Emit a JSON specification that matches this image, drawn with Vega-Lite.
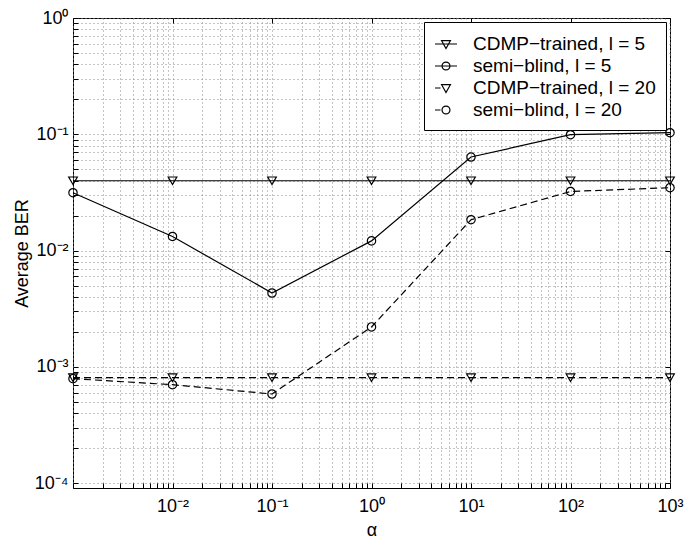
{
  "$schema": "https://vega.github.io/schema/vega-lite/v6.json",
  "width": 597,
  "height": 470,
  "autosize": {"type": "none"},
  "padding": {"left": 73, "top": 18, "right": 26, "bottom": 50},
  "background": "white",
  "config": {
    "view": {"stroke": "black", "strokeWidth": 1},
    "font": "Liberation Sans",
    "axis": {
      "labelFont": "Liberation Sans",
      "titleFont": "Liberation Sans",
      "labelFontSize": 18,
      "titleFontSize": 18,
      "titleFontWeight": "normal",
      "labelColor": "black",
      "titleColor": "black",
      "domain": false,
      "tickColor": "black",
      "tickSize": -5,
      "labelOverlap": false,
      "labelFlush": false,
      "labelBound": false
    },
    "legend": {
      "orient": "top-right",
      "offset": 4,
      "strokeColor": "black",
      "fillColor": "white",
      "padding": 10,
      "labelFont": "Liberation Sans",
      "labelFontSize": 19,
      "labelColor": "black",
      "labelLimit": 400,
      "symbolSize": 484,
      "symbolOpacity": 1,
      "symbolStrokeColor": "black",
      "symbolFillColor": "transparent",
      "symbolStrokeWidth": 1.2,
      "labelOffset": 15,
      "rowPadding": -2
    }
  },
  "data": {
    "values": [
      {"alpha": 0.001, "ber": 0.0398, "series": "CDMP−trained, l = 5", "method": "CDMP", "l": 5},
      {"alpha": 0.01, "ber": 0.0398, "series": "CDMP−trained, l = 5", "method": "CDMP", "l": 5},
      {"alpha": 0.1, "ber": 0.0398, "series": "CDMP−trained, l = 5", "method": "CDMP", "l": 5},
      {"alpha": 1, "ber": 0.0398, "series": "CDMP−trained, l = 5", "method": "CDMP", "l": 5},
      {"alpha": 10, "ber": 0.0398, "series": "CDMP−trained, l = 5", "method": "CDMP", "l": 5},
      {"alpha": 100, "ber": 0.0398, "series": "CDMP−trained, l = 5", "method": "CDMP", "l": 5},
      {"alpha": 1000, "ber": 0.0398, "series": "CDMP−trained, l = 5", "method": "CDMP", "l": 5},
      {"alpha": 0.001, "ber": 0.0314, "series": "semi−blind, l = 5", "method": "semi", "l": 5},
      {"alpha": 0.01, "ber": 0.0132, "series": "semi−blind, l = 5", "method": "semi", "l": 5},
      {"alpha": 0.1, "ber": 0.00431, "series": "semi−blind, l = 5", "method": "semi", "l": 5},
      {"alpha": 1, "ber": 0.0121, "series": "semi−blind, l = 5", "method": "semi", "l": 5},
      {"alpha": 10, "ber": 0.0637, "series": "semi−blind, l = 5", "method": "semi", "l": 5},
      {"alpha": 100, "ber": 0.0991, "series": "semi−blind, l = 5", "method": "semi", "l": 5},
      {"alpha": 1000, "ber": 0.1031, "series": "semi−blind, l = 5", "method": "semi", "l": 5},
      {"alpha": 0.001, "ber": 0.000805, "series": "CDMP−trained, l = 20", "method": "CDMP", "l": 20},
      {"alpha": 0.01, "ber": 0.000805, "series": "CDMP−trained, l = 20", "method": "CDMP", "l": 20},
      {"alpha": 0.1, "ber": 0.000805, "series": "CDMP−trained, l = 20", "method": "CDMP", "l": 20},
      {"alpha": 1, "ber": 0.000805, "series": "CDMP−trained, l = 20", "method": "CDMP", "l": 20},
      {"alpha": 10, "ber": 0.000805, "series": "CDMP−trained, l = 20", "method": "CDMP", "l": 20},
      {"alpha": 100, "ber": 0.000805, "series": "CDMP−trained, l = 20", "method": "CDMP", "l": 20},
      {"alpha": 1000, "ber": 0.000805, "series": "CDMP−trained, l = 20", "method": "CDMP", "l": 20},
      {"alpha": 0.001, "ber": 0.00079, "series": "semi−blind, l = 20", "method": "semi", "l": 20},
      {"alpha": 0.01, "ber": 0.000701, "series": "semi−blind, l = 20", "method": "semi", "l": 20},
      {"alpha": 0.1, "ber": 0.000583, "series": "semi−blind, l = 20", "method": "semi", "l": 20},
      {"alpha": 1, "ber": 0.0022, "series": "semi−blind, l = 20", "method": "semi", "l": 20},
      {"alpha": 10, "ber": 0.0184, "series": "semi−blind, l = 20", "method": "semi", "l": 20},
      {"alpha": 100, "ber": 0.0322, "series": "semi−blind, l = 20", "method": "semi", "l": 20},
      {"alpha": 1000, "ber": 0.0347, "series": "semi−blind, l = 20", "method": "semi", "l": 20}
    ]
  },
  "layer": [
    {
      "transform": [{"filter": "datum.l == 5"}],
      "mark": {"type": "line", "color": "black", "strokeWidth": 1.2},
      "encoding": {
        "x": {
          "field": "alpha", "type": "quantitative",
          "scale": {"type": "log", "domain": [0.001, 1000], "nice": false},
          "axis": {
            "orient": "bottom",
            "title": "α",
            "titlePadding": 6,
            "labelPadding": 14,
            "grid": true,
            "gridColor": "#888888",
            "gridDash": [1, 3],
            "values": [0.001,0.002,0.003,0.004,0.005,0.006,0.007,0.008,0.009,0.01,0.02,0.03,0.04,0.05,0.06,0.07,0.08,0.09,0.1,0.2,0.3,0.4,0.5,0.6,0.7,0.8,0.9,1,2,3,4,5,6,7,8,9,10,20,30,40,50,60,70,80,90,100,200,300,400,500,600,700,800,900,1000],
            "labelExpr": "datum.value == 0.01 ? '10⁻²' : datum.value == 0.1 ? '10⁻¹' : datum.value == 1 ? '10⁰' : datum.value == 10 ? '10¹' : datum.value == 100 ? '10²' : datum.value == 1000 ? '10³' : ''"
          }
        },
        "y": {
          "field": "ber", "type": "quantitative",
          "scale": {"type": "log", "domain": [0.0000906, 1], "nice": false},
          "axis": {
            "orient": "left",
            "title": "Average BER",
            "titlePadding": 3,
            "labelPadding": 10,
            "grid": true,
            "gridColor": "#888888",
            "gridDash": [1, 3],
            "values": [0.0001,0.0002,0.0003,0.0004,0.0005,0.0006,0.0007,0.0008,0.0009,0.001,0.002,0.003,0.004,0.005,0.006,0.007,0.008,0.009,0.01,0.02,0.03,0.04,0.05,0.06,0.07,0.08,0.09,0.1,0.2,0.3,0.4,0.5,0.6,0.7,0.8,0.9,1],
            "labelExpr": "datum.value == 0.0001 ? '10⁻⁴' : datum.value == 0.001 ? '10⁻³' : datum.value == 0.01 ? '10⁻²' : datum.value == 0.1 ? '10⁻¹' : datum.value == 1 ? '10⁰' : ''"
          }
        },
        "detail": {"field": "series", "type": "nominal"}
      }
    },
    {
      "transform": [{"filter": "datum.l == 20"}],
      "mark": {"type": "line", "color": "black", "strokeWidth": 1.2, "strokeDash": [7, 4]},
      "encoding": {
        "x": {"field": "alpha", "type": "quantitative", "axis": null},
        "y": {"field": "ber", "type": "quantitative", "axis": null},
        "detail": {"field": "series", "type": "nominal"}
      }
    },
    {
      "transform": [{"filter": "datum.method == 'CDMP'"}],
      "mark": {"type": "point", "shape": "triangle-down", "filled": false, "color": "black", "size": 75, "strokeWidth": 1.2, "opacity": 1},
      "encoding": {
        "x": {
          "field": "alpha", "type": "quantitative",
          "axis": {
            "orient": "top", "title": null, "labels": false, "grid": false,
            "values": [0.001, 0.01, 0.1, 1, 10, 100, 1000]
          }
        },
        "y": {
          "field": "ber", "type": "quantitative",
          "axis": {
            "orient": "right", "title": null, "labels": false, "grid": false,
            "values": [0.0001, 0.001, 0.01, 0.1, 1]
          }
        }
      }
    },
    {
      "transform": [{"filter": "datum.method == 'semi'"}],
      "mark": {"type": "point", "shape": "circle", "filled": false, "color": "black", "size": 70, "strokeWidth": 1.2, "opacity": 1},
      "encoding": {
        "x": {"field": "alpha", "type": "quantitative", "axis": null},
        "y": {"field": "ber", "type": "quantitative", "axis": null}
      }
    },
    {
      "mark": {"type": "point", "filled": false, "color": "black", "size": 0, "opacity": 0},
      "encoding": {
        "x": {"field": "alpha", "type": "quantitative", "axis": null},
        "y": {"field": "ber", "type": "quantitative", "axis": null},
        "shape": {
          "field": "series", "type": "nominal",
          "scale": {
            "domain": ["CDMP−trained, l = 5", "semi−blind, l = 5", "CDMP−trained, l = 20", "semi−blind, l = 20"],
            "range": [
              "M-1,0H1M-0.4,-0.3H0.4L0,0.42Z",
              "M-1,0H1M0.36,0A0.36,0.36,0,1,1,-0.36,0A0.36,0.36,0,1,1,0.36,0",
              "M-1,0H-0.5M-0.4,-0.3H0.4L0,0.42Z",
              "M-1,0H-0.5M0.36,0A0.36,0.36,0,1,1,-0.36,0A0.36,0.36,0,1,1,0.36,0"
            ]
          },
          "legend": {"title": null}
        }
      }
    }
  ],
  "resolve": {"axis": {"x": "independent", "y": "independent"}}
}
